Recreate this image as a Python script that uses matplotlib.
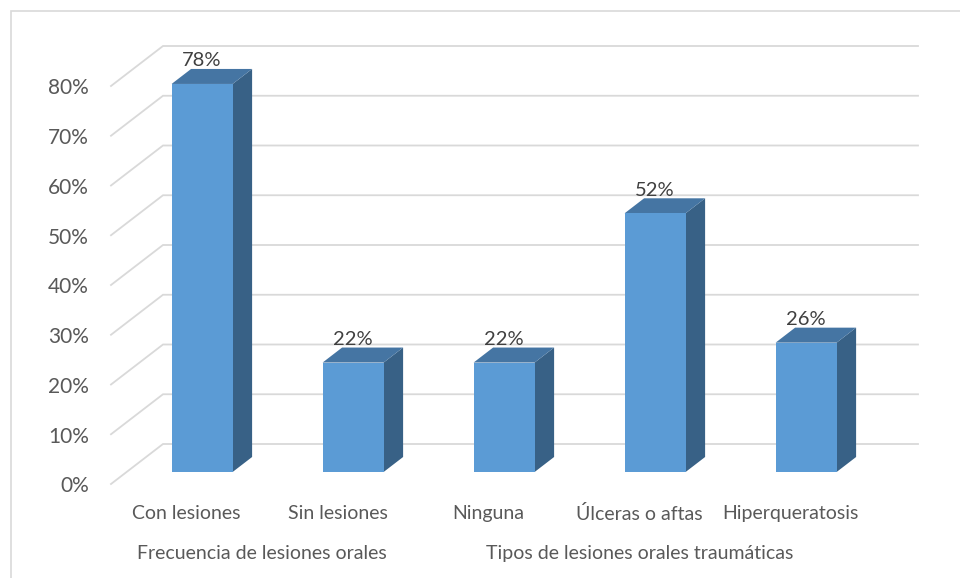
"""Gráfico de barras 3D (estilo Excel) de lesiones orales."""
import matplotlib
matplotlib.use("Agg")
import matplotlib.pyplot as plt
from matplotlib.patches import Polygon

plt.rcParams["font.family"] = ["Lato", "DejaVu Sans"]

# datos
categorias = ["Con lesiones", "Sin lesiones", "Ninguna", "Úlceras o aftas", "Hiperqueratosis"]
valores = [78, 22, 22, 52, 26]
grupos = ["Frecuencia de lesiones orales", "Tipos de lesiones orales traumáticas"]
grupo_tam = [2, 3]
ticks_y = [0, 10, 20, 30, 40, 50, 60, 70, 80]

# colores
C_FRENTE = "#5B9BD5"
C_TECHO = "#4575A3"
C_LADO = "#386186"
C_GRID = "#D9D9D9"
C_TEXTO = "#595959"
C_ETIQ = "#404040"

# geometría de la proyección oblicua (en unidades de datos)
DX = 52 / 151       # desplazamiento de fondo en x (categorías)
DY = 8.04           # desplazamiento de fondo en y (%)
F0 = 0.30           # posición de la cara frontal de la barra
PROF = 0.375        # profundidad de la barra
ANCHO = 0.404

fig = plt.figure(figsize=(9.6, 5.78), dpi=100)
ax = fig.add_axes([111 / 960, 94 / 578, 755 / 960, 398 / 578])
ax.set_xlim(0, len(categorias))
ax.set_ylim(0, 80)
ax.axis("off")

# borde del gráfico
fig.patches.append(plt.Rectangle((10.5 / 960, -0.01), 1.0, 1 - 10.5 / 578 + 0.01,
                                 transform=fig.transFigure, fill=False,
                                 edgecolor="#D9D9D9", linewidth=1.2))

n = len(categorias)
# líneas de cuadrícula (pared lateral + fondo)
for v in ticks_y:
    ax.plot([0, DX, n + DX], [v, v + DY, v + DY], color=C_GRID, lw=1.3,
            clip_on=False, zorder=1, solid_joinstyle="miter")
    ax.text(-22 / 151, v - 0.5, f"{v}%", ha="right", va="center",
            fontsize=15, color=C_TEXTO)

# barras
for i, (cat, val) in enumerate(zip(categorias, valores)):
    c = i + 0.5
    xl = c - ANCHO / 2 + F0 * DX
    xr = xl + ANCHO
    y0 = F0 * DY
    yt = val + y0
    ddx, ddy = PROF * DX, PROF * DY
    ax.add_patch(Polygon([(xr, y0), (xr + ddx, y0 + ddy), (xr + ddx, yt + ddy), (xr, yt)],
                         closed=True, facecolor=C_LADO, edgecolor="none", zorder=3, clip_on=False))
    ax.add_patch(Polygon([(xl, yt), (xr, yt), (xr + ddx, yt + ddy), (xl + ddx, yt + ddy)],
                         closed=True, facecolor=C_TECHO, edgecolor="none", zorder=3, clip_on=False))
    ax.add_patch(Polygon([(xl, y0), (xr, y0), (xr, yt), (xl, yt)],
                         closed=True, facecolor=C_FRENTE, edgecolor="none", zorder=4, clip_on=False))
    ax.text((xl + xr) / 2, yt + ddy + 0.5, f"{val}%", ha="center", va="baseline",
            fontsize=14.5, color=C_ETIQ, zorder=5)
    ax.text(c, -6.0, cat, ha="center", va="center", fontsize=14, color=C_TEXTO)

# etiquetas de grupo
inicio = 0
for g, k in zip(grupos, grupo_tam):
    ax.text(inicio + k / 2, -14.0, g, ha="center", va="center", fontsize=14, color=C_TEXTO)
    inicio += k

fig.savefig("out.png", dpi=100)
